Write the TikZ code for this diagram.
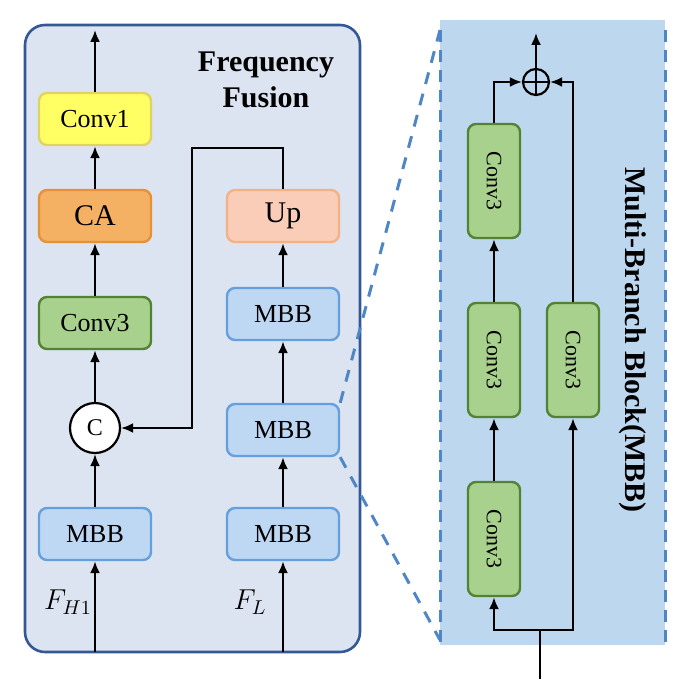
\documentclass[tikz,border=0pt]{standalone}
\usepackage{fontspec}
\setmainfont{Liberation Serif}
\usetikzlibrary{arrows.meta}
\definecolor{panelL}{RGB}{220,228,241}
\definecolor{panelLb}{RGB}{52,88,150}
\definecolor{panelR}{RGB}{189,215,238}
\definecolor{dashb}{RGB}{79,134,198}
\definecolor{mbbf}{RGB}{190,216,243}
\definecolor{mbbb}{RGB}{102,160,220}
\definecolor{cnvf}{RGB}{169,209,142}
\definecolor{cnvb}{RGB}{84,130,53}
\definecolor{caf}{RGB}{244,177,100}
\definecolor{cab}{RGB}{230,145,56}
\definecolor{c1f}{RGB}{255,255,100}
\definecolor{c1b}{RGB}{225,210,100}
\definecolor{upf}{RGB}{250,205,185}
\definecolor{upb}{RGB}{244,177,131}
\begin{document}
\begin{tikzpicture}[x=0.5pt,y=-0.5pt,
  blk/.style={draw, rounded corners=4pt, line width=1.2pt, minimum width=56pt, minimum height=26pt, inner sep=0pt, font=\fontsize{13}{13}\selectfont},
  mbb/.style={blk, fill=mbbf, draw=mbbb},
  cnv/.style={blk, fill=cnvf, draw=cnvb, font=\fontsize{11}{11}\selectfont},
  vcnv/.style={cnv, minimum width=26pt, minimum height=57pt},
  arr/.style={-{Latex[length=6pt,width=5pt]}, line width=1.1pt}]
\useasboundingbox (0,0) rectangle (684,679);

% panels
\fill[panelR] (440,20) rectangle (665,645);
\draw[dashb, dashed, line width=1.5pt, dash pattern=on 6pt off 4pt] (440,30) -- (440,645) (665,30) -- (665,645);
\draw[panelLb, fill=panelL, line width=1.3pt, rounded corners=10pt] (25,25) rectangle (360,652);

% left column
\node[blk, fill=c1f, draw=c1b] (conv1) at (95,119) {Conv1};
\node[blk, fill=caf, draw=cab, font=\fontsize{15}{15}\selectfont] (ca) at (95,216) {CA};
\node[cnv, font=\fontsize{13}{13}\selectfont] (conv3) at (95,323) {Conv3};
\node[draw, circle, line width=1.1pt, fill=white, minimum size=25pt, inner sep=0pt, font=\fontsize{12}{12}\selectfont] (cat) at (95,428) {C};
\node[mbb] (mbbA) at (95,534) {MBB};
\coordinate (inA) at (95,652);
\coordinate (outA) at (95,30);
% right column
\node[blk, fill=upf, draw=upb, font=\fontsize{15}{15}\selectfont] (up) at (283,216) {Up};
\node[mbb] (mbbB) at (283,314) {MBB};
\node[mbb] (mbbC) at (283,430) {MBB};
\node[mbb] (mbbD) at (283,534) {MBB};
\coordinate (inB) at (283,652);

\node[font=\fontsize{15}{15}\selectfont\bfseries, align=center] (title) at (266,80) {Frequency\\[3pt]Fusion};
\node[font=\fontsize{14}{14}\selectfont] at (68,602) {$F_{H1}$};
\node[font=\fontsize{14}{14}\selectfont] at (250,602) {$F_L$};

\draw[arr] (inA) -- (mbbA);
\draw[arr] (mbbA) -- (cat);
\draw[arr] (cat) -- (conv3);
\draw[arr] (conv3) -- (ca);
\draw[arr] (ca) -- (conv1);
\draw[arr] (conv1) -- (outA);
\draw[arr] (inB) -- (mbbD);
\draw[arr] (mbbD) -- (mbbC);
\draw[arr] (mbbC) -- (mbbB);
\draw[arr] (mbbB) -- (up);
\draw[arr] (up.north) |- (192,148) |- (cat.east);

% zoom lines
\draw[dashb, line width=1.5pt, dash pattern=on 6pt off 5pt] (mbbC.north east) -- (440,30);
\draw[dashb, line width=1.5pt, dash pattern=on 6pt off 5pt] (mbbC.south east) -- (440,640);

% multi-branch block
\node[vcnv] (b1) at (494,181) {\rotatebox{-90}{Conv3}};
\node[vcnv] (b2) at (494,360) {\rotatebox{-90}{Conv3}};
\node[vcnv] (b3) at (494,539) {\rotatebox{-90}{Conv3}};
\node[vcnv] (b4) at (573,360) {\rotatebox{-90}{Conv3}};
\node[draw, circle, line width=1.1pt, minimum size=13pt, inner sep=0pt] (sum) at (536,82) {};
\draw[line width=1.1pt] (sum.north) -- (sum.south) (sum.west) -- (sum.east);
\coordinate (inC) at (540,679);
\coordinate (split) at (540,630);
\coordinate (outC) at (536,33);
\draw[line width=1.1pt] (inC) -- (split);
\draw[arr] (split) -| (b3.south);
\draw[arr] (split) -| (b4.south);
\draw[arr] (b3) -- (b2);
\draw[arr] (b2) -- (b1);
\draw[arr] (b1.north) |- (sum.west);
\draw[arr] (b4.north) |- (sum.east);
\draw[arr] (sum) -- (outC);
\node[rotate=-90, font=\fontsize{15}{15}\selectfont\bfseries] (mbbt) at (633,340) {Multi-Branch Block(MBB)};
\end{tikzpicture}
\end{document}
